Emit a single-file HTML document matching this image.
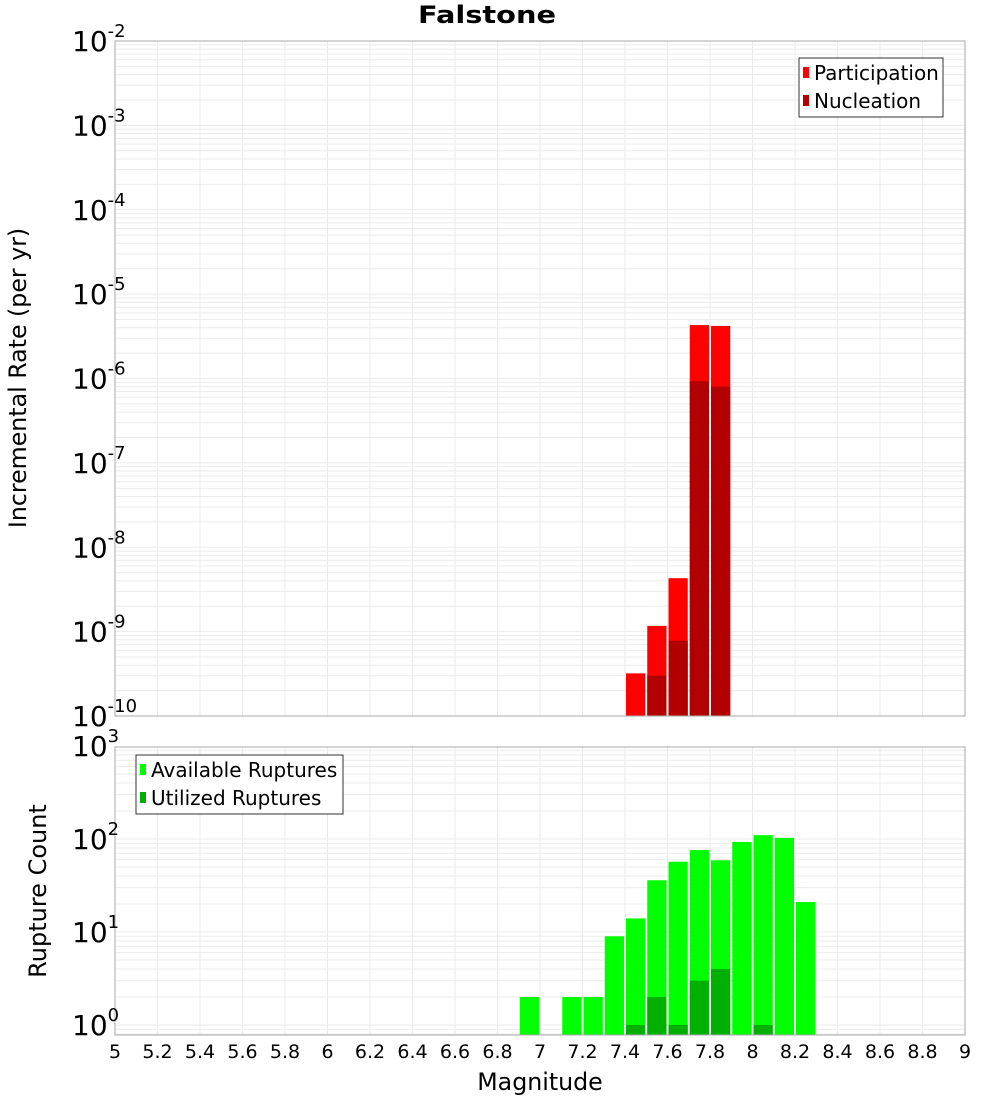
<!DOCTYPE html>
<html><head><meta charset="utf-8"><style>
html,body{margin:0;padding:0;background:#fff;}
svg{display:block;font-family:"DejaVu Sans","Liberation Sans",sans-serif;}
</style></head><body>
<svg id="chart" width="1000" height="1100" xmlns="http://www.w3.org/2000/svg">
<text x="487" y="23" text-anchor="middle" font-weight="bold" font-size="24" textLength="138" lengthAdjust="spacingAndGlyphs">Falstone</text>
<g id="topPlot"></g>
<g id="botPlot"></g>
<text transform="translate(26,378) rotate(-90)" text-anchor="middle" font-size="23.7">Incremental Rate (per yr)</text>
<text transform="translate(46,891) rotate(-90)" text-anchor="middle" font-size="24">Rupture Count</text>
<text x="540" y="1090" text-anchor="middle" font-size="23.7">Magnitude</text>
</svg>
<script>
const binStarts = [6.9,7.0,7.1,7.2,7.3,7.4,7.5,7.6,7.7,7.8,7.9,8.0,8.1,8.2];
const participation = [0,0,0,0,0,3.2e-10,1.17e-9,4.3e-9,4.3e-6,4.2e-6,0,0,0,0];
const nucleation = [0,0,0,0,0,0,3.0e-10,7.8e-10,9.3e-7,8.0e-7,0,0,0,0];
const available = [2,0,2,2,9,14,36,57,76,59,93,110,103,21];
const utilized = [0,0,0,0,0,1,2,1,3,4,0,1,0,0];
const xTicks = [5,5.2,5.4,5.6,5.8,6,6.2,6.4,6.6,6.8,7,7.2,7.4,7.6,7.8,8,8.2,8.4,8.6,8.8,9];
const rateExps = [-2,-3,-4,-5,-6,-7,-8,-9,-10];
const countExps = [3,2,1,0];

const NS='http://www.w3.org/2000/svg';
const X0=115,X1=965,XMIN=5,XMAX=9;
const xS=m=>X0+(m-XMIN)/(XMAX-XMIN)*(X1-X0);
const TT=41,TB=716; const yTop=v=>TB-(Math.log10(v)+10)/8*(TB-TT);
const BT=747,BB=1035,D=93; const yBot=v=>1025-Math.log10(v)*D;
function el(tag,attrs,parent){const e=document.createElementNS(NS,tag);for(const k in attrs)e.setAttribute(k,attrs[k]);parent.appendChild(e);return e;}
const gTop=document.getElementById('topPlot'),gBot=document.getElementById('botPlot');

function grid(g,t,b,yf,lo,hi){
  for(let d=lo;d<hi;d++)for(let k=1;k<10;k++){const y=yf(k*Math.pow(10,d));if(y>=t&&y<=b)el('line',{x1:X0,x2:X1,y1:y,y2:y,stroke:'#ebebeb','stroke-width':1},g);}
  for(let i=0;i<xTicks.length;i++){const xx=xS(xTicks[i]);el('line',{x1:xx,x2:xx,y1:t,y2:b,stroke:'#ebebeb','stroke-width':1},g);}
}
grid(gTop,TT,TB,yTop,-10,-2);
grid(gBot,BT,BB,yBot,-1,3);

function bars(g,vals,yf,base,color,name){
  for(let i=0;i<binStarts.length;i++){if(!vals[i])continue;const x0=xS(binStarts[i])+1,x1=xS(binStarts[i]+0.1)-1;const y=yf(vals[i]);
    const r=el('rect',{x:x0,y:y,width:x1-x0,height:base-y,fill:color},g);
    
    }
}
bars(gTop,participation,yTop,TB,'#ff0000','participation-bar');
bars(gTop,nucleation,yTop,TB,'#b20000','nucleation-bar');
bars(gBot,available,yBot,BB,'#00ff00','available-bar');
bars(gBot,utilized,yBot,BB,'#00b000','utilized-bar');

el('rect',{x:X0,y:TT,width:X1-X0,height:TB-TT,fill:'none',stroke:'#aaa','stroke-width':1},gTop);
el('rect',{x:X0,y:BT,width:X1-X0,height:BB-BT,fill:'none',stroke:'#aaa','stroke-width':1},gBot);

function ylab(g,exp,y){const t=el('text',{x:72,y:y+10,'font-size':28},g);t.textContent='10';const s=el('tspan',{dy:-14,'font-size':18},t);s.textContent=String(exp);
  
  }
for(const e of rateExps)ylab(gTop,e,yTop(Math.pow(10,e)));
for(const e of countExps)ylab(gBot,e,yBot(Math.pow(10,e)));
for(const m of xTicks){const t=el('text',{x:xS(m),y:1058,'text-anchor':'middle','font-size':19},gBot);t.textContent=String(m);
  
  }

function legend(g,bx,by,w,items){const L=el('g',{},g);
  
  
  el('rect',{x:bx,y:by,width:w,height:59,fill:'#fff',stroke:'#333','stroke-width':1},L);
  items.forEach((it,i)=>{const yy=by+15+i*28;el('rect',{x:bx+4,y:yy-6,width:6,height:11,fill:it[1]},L);
    const t=el('text',{x:bx+15,y:yy+7,'font-size':20},L);t.textContent=it[0];
    
    });}
legend(gTop,799,58,144,[['Participation','#ff0000'],['Nucleation','#b20000']]);
legend(gBot,136,755,207,[['Available Ruptures','#00ff00'],['Utilized Ruptures','#00b000']]);
</script>
</body></html>
